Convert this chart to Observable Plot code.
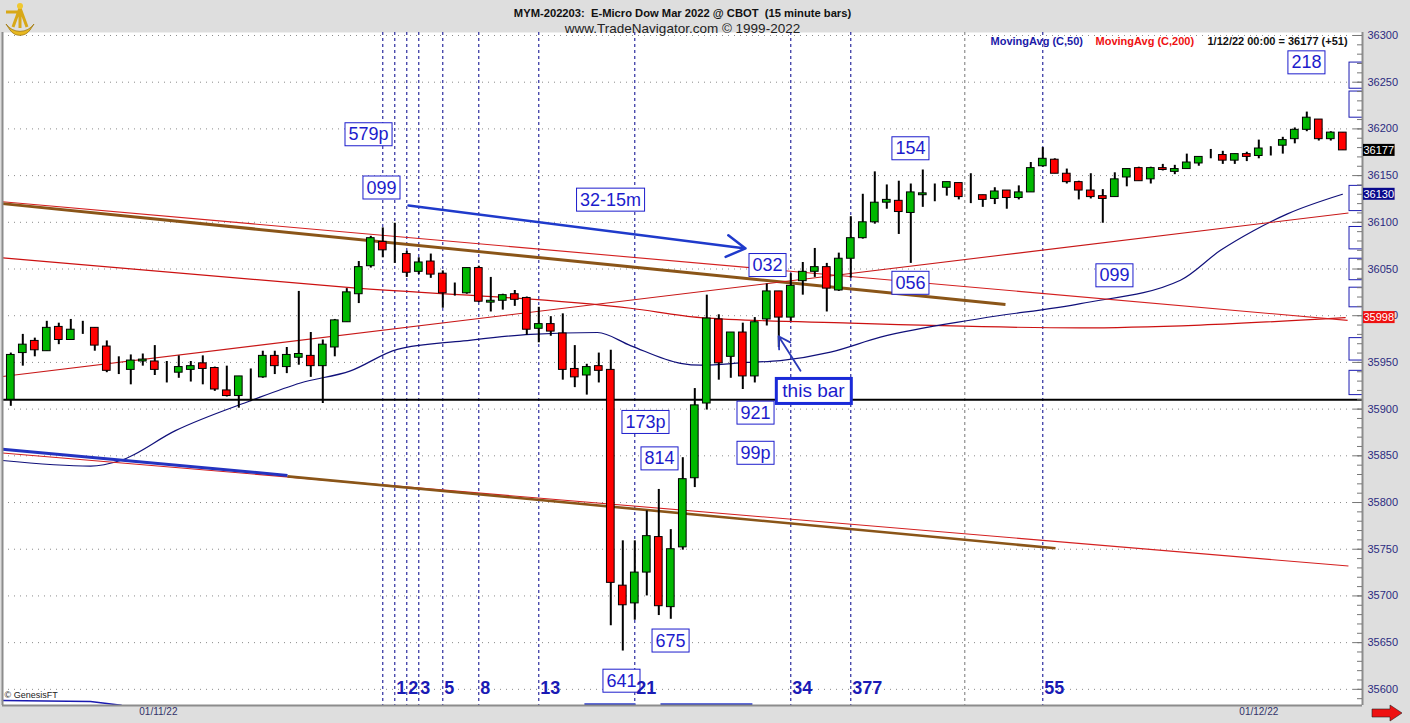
<!DOCTYPE html>
<html><head><meta charset="utf-8">
<script src="https://cdn.jsdelivr.net/npm/d3@7"></script>
<script src="https://cdn.jsdelivr.net/npm/@observablehq/plot@0.6"></script>
<style>body{margin:0;background:#dedede;overflow:hidden}svg{display:block}</style>
</head><body><div id="chart"></div>
<script>
// ---- OHLC (15-minute bars, index 0..111) ----
const opens  = [35910,35960,35973,35962,35988,35974,35988,35987,35967,35941,35942,35951,35951,35940,35939,35942,35949,35944,35920,35914,35935,35934,35957,35945,35955,35957,35946,35966,35993,36023,36053,36079,36069,36066,36047,36058,36045,36024,36024,36051,36014,36016,36023,36019,35986,35991,35981,35943,35936,35946,35942,35711,35692,35725,35763,35688,35752,35826,35906,35996,35956,35982,35935,35996,36026,35998,36037,36047,36052,36027,36061,36083,36100,36121,36123,36110,36129,36135,36137,36142,36129,36129,36125,36134,36126,36132,36160,36167,36152,36143,36134,36128,36127,36148,36158,36146,36158,36154,36157,36163,36171,36172,36166,36173,36171,36181,36182,36189,36199,36210,36189,36196];
const highs  = [35960,35980,35976,35994,35992,35996,35994,35987,35973,35956,35958,35959,35968,35951,35957,35951,35957,35945,35946,35935,35943,35962,35962,35966,36026,35982,35974,35996,36029,36058,36085,36094,36099,36069,36062,36066,36048,36035,36051,36053,36041,36023,36027,36020,36009,35999,36002,35968,35948,35960,35963,35759,35759,35791,35814,35771,35848,35922,36022,36001,35982,35992,35998,36034,36026,36045,36057,36072,36056,36067,36106,36130,36154,36140,36144,36141,36156,36141,36143,36142,36152,36129,36137,36134,36139,36164,36180,36168,36157,36144,36152,36135,36153,36157,36159,36159,36162,36161,36173,36170,36178,36176,36173,36175,36188,36181,36191,36201,36218,36210,36197,36196];
const lows   = [35903,35946,35956,35962,35969,35974,35980,35962,35939,35937,35926,35946,35936,35928,35933,35929,35926,35919,35913,35901,35908,35933,35937,35938,35947,35934,35906,35956,35993,36013,36051,36062,36056,36041,36044,36040,36008,36021,36023,36014,36004,36006,36010,35979,35971,35978,35931,35923,35915,35928,35668,35641,35674,35700,35679,35675,35749,35816,35899,35931,35933,35921,35928,35989,35966,35994,36022,36041,36004,36026,36040,36082,36098,36114,36087,36056,36116,36122,36128,36124,36120,36116,36119,36114,36124,36132,36159,36152,36141,36124,36125,36099,36127,36138,36144,36141,36155,36151,36157,36160,36168,36162,36162,36165,36168,36171,36173,36184,36197,36187,36187,36177];
const closes = [35958,35969,35963,35987,35974,35985,35988,35968,35941,35941,35952,35953,35942,35940,35945,35946,35943,35921,35914,35935,35935,35957,35946,35958,35959,35946,35969,35995,36025,36052,36083,36070,36069,36046,36057,36044,36024,36024,36051,36015,36016,36022,36017,35985,35991,35983,35942,35934,35945,35941,35714,35690,35725,35764,35689,35750,35825,35904,35997,35949,35982,35935,35993,36026,35998,36032,36047,36052,36029,36061,36083,36100,36121,36124,36111,36132,36131,36135,36143,36127,36129,36124,36133,36126,36132,36158,36168,36152,36143,36134,36127,36125,36146,36157,36144,36158,36156,36157,36164,36170,36171,36166,36173,36170,36179,36181,36188,36199,36212,36189,36196,36177];

// ---- Moving averages ----
const ma50Idx = [-0.69,6.64,9.14,13.72,19.98,24.14,28.31,32.22,37.72,43.31,48.89,51.64,55.81,57.47,61.39,64.14,68.31,72.47,80.81,89.14,97.47,100.81,103.56,106.39,110.97];
const ma50Val = [35845,35839,35845,35877,35909,35928,35941,35964,35973,35980,35982,35968,35949,35947,35950,35952,35961,35977,35997,36013,36038,36070,36091,36109,36130];
const ma200Idx = [-0.69,28.31,51.64,57.47,69.97,89.14,99.14,111.2];
const ma200Val = [36062,36030,36008,35998,35992,35987,35990,35998];

// ---- Trend lines ----
const trendNames = ["upperRed","upperBrown","lowerRed","lowerBlue","lowerBrown","risingRed"];
const trendI1 = [-0.69,-0.69,-0.69,-0.69,23.06,-0.69];
const trendV1 = [36122,36120,35853,35857,35828,35935];
const trendI2 = [111.4,82.89,111.47,23.06,87.06,111.47];
const trendV2 = [35995,36012,35732,35829,35751,36110];
const supportLevel = [35910];

// ---- Vertical count lines ----
const fibLineIdx = [31,32,33,34,36,39,44,52,65,70,86];
const fibLabelIdx = [32,33,34,36,39,44,52,65,70,86];
const fibLabelText = ["1","2","3","5","8","13","21","34","377","55"];
const daySepIdx = [79.5];

// ---- Annotations ----
const annText = ["579p","099","32-15m","032","154","056","099","218","173p","814","921","99p","675","641"];
const annIdx  = [29.81,30.89,49.98,63.06,74.97,74.97,91.97,107.97,52.89,54.06,62.06,62.06,54.98,50.89];
const annVal  = [36194,36137,36124,36054,36179,36035,36043,36271,35886,35847,35896,35853,35652,35609];
const noteText = ["this bar"];
const noteIdx = [66.89];
const noteVal = [35919];
const arrowBig = {i1:33.14, v1:36118, i2:61.23, v2:36072};
const arrowBar = {i1:65.81, v1:35941, i2:63.98, v2:35978};
const offBoxTop = [36271,36240,36139,36095,36061,36030,35976,35941];
const offBoxBot = [36243,36212,36112,36071,36038,36009,35952,35915];
const bottomLineIdx = [-0.69,6.64,9.2];
const bottomLineVal = [35588,35587,35583];
const bottomSegI1 = [47.8,54.14];
const bottomSegI2 = [52.06,61.8];
const bottomSegV = [35584,35584];

// ---- Axis / tags ----
const yTicks = d3.range(35600,36301,50);
const yMinor = d3.range(35590,36301,10);
const tagText = ["36177","36130","35998"];
const tagVal = [36177,36130,35998];
const tagFill = ["#000000","#0a0a8c","#ee1111"];
const dateText = ["01/11/22","01/12/22"];
const dateIdx = [12.3,104];

// ---- build ----
const X0 = -0.6917, X1 = 112.642, Y0 = 35582.7, Y1 = 36303.2;
const bars = opens.map((o,i)=>({i,o,h:highs[i],l:lows[i],c:closes[i]}));
const up = bars.filter(d=>d.c>=d.o), down = bars.filter(d=>d.c<d.o);
const ma50 = ma50Idx.map((x,k)=>({x,y:ma50Val[k]}));
const ma200 = ma200Idx.map((x,k)=>({x,y:ma200Val[k]}));
const trends = trendNames.map((n,k)=>({n,x1:trendI1[k],y1:trendV1[k],x2:trendI2[k],y2:trendV2[k]}));
const tstyle = {upperRed:["#d42020",1.1],upperBrown:["#8a5518",3],lowerRed:["#d42020",1.1],lowerBlue:["#2433c0",3],lowerBrown:["#8a5518",2.6],risingRed:["#c81818",1.1]};
const ann = annText.map((t,k)=>({t,x:annIdx[k],y:annVal[k]}));
const notes = noteText.map((t,k)=>({t,x:noteIdx[k],y:noteVal[k]}));
const offBoxes = offBoxTop.map((t,k)=>({t,b:offBoxBot[k]}));
const tags = tagText.map((t,k)=>({t,y:tagVal[k]}));
const dates = dateText.map((t,k)=>({t,x:dateIdx[k]}));
const fibLabels = fibLabelText.map((t,k)=>({t,x:fibLabelIdx[k]}));
const bottomLine = bottomLineIdx.map((x,k)=>({x,y:bottomLineVal[k]}));
const bottomSegs = bottomSegI1.map((x1,k)=>({x1,x2:bottomSegI2[k],y:bottomSegV[k]}));

const FONT = "'Liberation Sans', Arial, sans-serif";
const BLUE = "#1c1ccc";
const lastIdx = bars.length - 1;

const svg = Plot.plot({
  width: 1410, height: 723,
  marginTop: 32, marginBottom: 18, marginLeft: 2, marginRight: 48,
  style: {background: "#dedede", fontFamily: FONT},
  x: {domain: [X0, X1], axis: null},
  y: {domain: [Y0, Y1], axis: null},
  marks: [
    Plot.frame({fill: "white", stroke: null}),
    Plot.ruleY(yTicks, {stroke: "#8a8a8a", strokeDasharray: "1,5"}),
    Plot.ruleX(fibLineIdx, {stroke: "#00008b", strokeDasharray: "3,3", strokeWidth: 1}),
    Plot.ruleX(daySepIdx, {stroke: "#777", strokeDasharray: "3,3", strokeWidth: 1}),
    Plot.rect(offBoxes, {x1: 111.56, x2: 113, y1: "b", y2: "t", stroke: "#1a1ab0", fill: "none", clip: true}),
    Plot.line(ma200, {x: "x", y: "y", stroke: "#cc1111", strokeWidth: 1.2, curve: "monotone-x"}),
    Plot.line(ma50, {x: "x", y: "y", stroke: "#10107a", strokeWidth: 1.2, curve: "monotone-x"}),
    ...trends.map(t => Plot.link([t], {x1: "x1", y1: "y1", x2: "x2", y2: "y2", stroke: tstyle[t.n][0], strokeWidth: tstyle[t.n][1]})),
    Plot.ruleY(supportLevel, {stroke: "black", strokeWidth: 2}),
    Plot.line(bottomLine, {x: "x", y: "y", stroke: "#1a1ab0", strokeWidth: 1.5}),
    Plot.link(bottomSegs, {x1: "x1", x2: "x2", y1: "y", y2: "y", stroke: "#2a3ac8", strokeWidth: 2}),
    Plot.ruleX(bars, {x: "i", y1: "l", y2: "h", stroke: "black", strokeWidth: 2}),
    Plot.rect(up, {x1: d => d.i - 0.32, x2: d => d.i + 0.32, y1: "o", y2: "c", fill: "#00b800", stroke: "black", strokeWidth: 1}),
    Plot.rect(down, {x1: d => d.i - 0.32, x2: d => d.i + 0.32, y1: "c", y2: "o", fill: "#ff0000", stroke: "black", strokeWidth: 1}),
    Plot.arrow([arrowBig], {x1: "i1", y1: "v1", x2: "i2", y2: "v2", stroke: "#1f3acb", strokeWidth: 2.5, headLength: 13}),
    Plot.arrow([arrowBar], {x1: "i1", y1: "v1", x2: "i2", y2: "v2", stroke: "#2a3ab8", strokeWidth: 1.8, headLength: 11}),
    Plot.text(ann, {x: "x", y: "y", text: "t", fill: BLUE, fontSize: 18, ariaDescription: "boxed"}),
    Plot.text(notes, {x: "x", y: "y", text: "t", fill: BLUE, fontSize: 19, ariaDescription: "boxedthick"}),
    Plot.text(fibLabels, {x: "x", text: "t", frameAnchor: "bottom", dy: -12, dx: 1.5, textAnchor: "start", fill: "#1a1ab4", fontSize: 18, fontWeight: "bold"}),
    Plot.text(["© GenesisFT"], {frameAnchor: "bottom-left", dx: 2, dy: -8, textAnchor: "start", fill: "#222", fontSize: 9}),
    Plot.text(["MovingAvg (C,50)"], {frameAnchor: "top-left", dx: 988, dy: 5, textAnchor: "start", fill: "#1a1aa8", fontSize: 11, fontWeight: "bold"}),
    Plot.text(["MovingAvg (C,200)"], {frameAnchor: "top-left", dx: 1093, dy: 5, textAnchor: "start", fill: "#ee1111", fontSize: 11, fontWeight: "bold"}),
    Plot.text([`1/12/22 00:00 = ${closes[lastIdx]} (+51)`], {frameAnchor: "top-left", dx: 1205, dy: 5, textAnchor: "start", fill: "#111", fontSize: 11, fontWeight: "bold"}),
    Plot.text(["MYM-202203:  E-Micro Dow Mar 2022 @ CBOT  (15 minute bars)"], {frameAnchor: "top", dy: -23, fill: "#111", fontSize: 11.2, fontWeight: "bold"}),
    Plot.text(["www.TradeNavigator.com © 1999-2022"], {frameAnchor: "top", dy: -9.5, fill: "#222", fontSize: 13.5}),
    Plot.text(dates, {x: "x", text: "t", frameAnchor: "bottom", dy: 9, fill: "#33336a", fontSize: 10}),
    Plot.ruleX([X0], {stroke: "#8c8c8c", strokeWidth: 2}),
    Plot.ruleX([X1], {stroke: "#8c8c8c", strokeWidth: 2}),
    Plot.ruleY([Y0], {stroke: "#8c8c8c", strokeWidth: 2}),
    Plot.tickY(yMinor, {y: d => d, insetLeft: 1355, stroke: "#777"}),
    Plot.tickY(yTicks, {y: d => d, insetLeft: 1351, stroke: "#777"}),
    Plot.axisY(yTicks, {anchor: "right", tickSize: 0, tickPadding: 5, tickFormat: d => String(d), fill: "#2b2b80", fontSize: 11, label: null}),
    Plot.text(tags, {y: "y", text: "t", frameAnchor: "right", textAnchor: "start", dx: 1, fill: "white", fontSize: 11, ariaDescription: "tag"})
  ]
});
document.getElementById("chart").append(svg);

function boxify(sel, pad, stroke, sw, fills) {
  d3.select(svg).selectAll(sel).each(function(_, k) {
    const b = this.getBBox();
    const r = d3.select(this.parentNode).insert("rect", () => this)
      .attr("x", b.x - pad[0]).attr("y", b.y - pad[1])
      .attr("width", b.width + 2 * pad[0]).attr("height", b.height + 2 * pad[1])
      .attr("fill", fills ? fills[k] : "white")
      .attr("stroke", stroke).attr("stroke-width", sw);
    const tr = this.getAttribute("transform");
    if (tr) r.attr("transform", tr);
  });
}
boxify('g[aria-description="boxed"] text', [3.5, 1.5], BLUE, 1);
boxify('g[aria-description="boxedthick"] text', [6, 2], "#1a2ad8", 3);
boxify('g[aria-description="tag"] text', [0.5, 0], "none", 0, tagFill);

const deco = d3.select(svg).append("g");
// small red navigation arrow (bottom right)
deco.append("path")
  .attr("d", "M1372,709 L1390,709 L1390,705 L1402,713 L1390,721 L1390,717 L1372,717 Z")
  .attr("fill", "#ee1111").attr("stroke", "#222").attr("stroke-width", 0.6);
// simple golden sextant logo (top left)
deco.append("path").attr("d", "M6,24 A17,17 0 0 0 34,24 L30,30 A12,12 0 0 1 10,30 Z")
  .attr("fill", "#e8b820").attr("stroke", "#a07810").attr("stroke-width", 0.8);
deco.append("path").attr("d", "M20,4 L20,28 M13,27 L20,8 L27,27 M6,12 L20,12")
  .attr("stroke", "#d8a818").attr("stroke-width", 3).attr("fill", "none");
deco.append("circle").attr("cx", 20).attr("cy", 6).attr("r", 3).attr("fill", "#f0c830");
</script>
</body></html>
